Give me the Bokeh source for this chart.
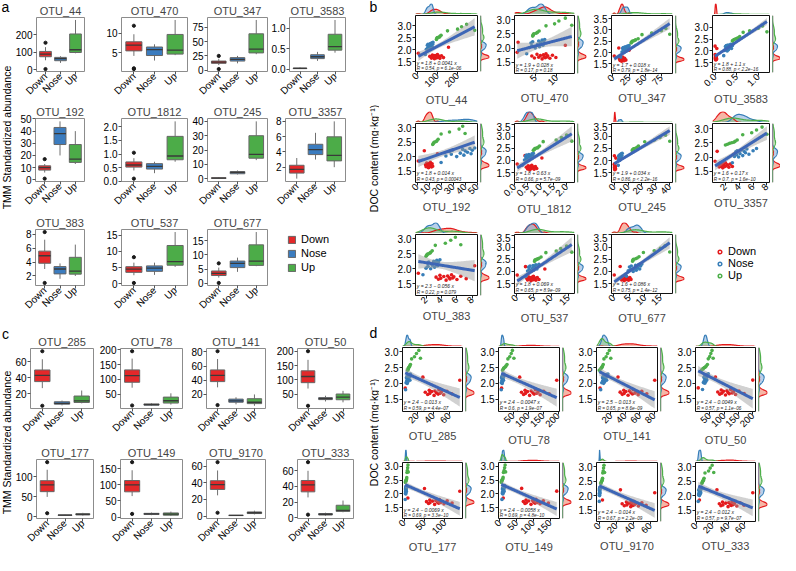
import numpy as np
from math import pi
from bokeh.plotting import figure
from bokeh.layouts import row, column
from bokeh.models import (Range1d, FactorRange, FixedTicker, NumeralTickFormatter,
                          Label, Legend, LegendItem, ColumnDataSource)
from bokeh.embed import file_html
from bokeh.resources import INLINE

FONT = "Liberation Sans"
GROUPS = ["Down", "Nose", "Up"]
LINE_COL = {"Down": "#E41A1C", "Nose": "#377EB8", "Up": "#4DAF4A"}
BOX_COL = {"Down": "#E3282A", "Nose": "#3B7CBF", "Up": "#4CAC48"}
DENS_FILL = {"Down": "#EE7A5C", "Nose": "#7FA9D8", "Up": "#92C987"}

# ---------------- data: DOC content per sample (same samples in every OTU) ----------------
doc_down = [1.85, 2.20, 1.72, 1.65, 1.78, 1.68, 1.74, 1.62, 1.76, 1.70, 1.66, 1.80, 1.69, 1.73, 1.64, 1.75, 1.67, 2.10]
doc_nose = [1.80, 2.02, 2.18, 2.08, 2.22, 2.00, 2.12, 2.25, 2.05, 2.20, 2.15, 2.28, 2.10, 2.22, 2.30]
doc_up = [2.42, 2.45, 2.48, 2.50, 2.52, 2.55, 2.60, 2.78, 2.85, 2.95, 3.05, 2.80]

# ---------------- data: TMM standardized abundance per sample ----------------
OTU_44_down = [5, 55, 62, 70, 75, 76, 80, 85, 88, 92, 96, 100, 104, 106, 112, 120, 130, 155]
OTU_44_nose = [40, 45, 50, 52, 53, 58, 62, 65, 66, 68, 70, 73, 75, 76, 78]
OTU_44_up = [95, 96, 98, 100, 110, 112, 118, 150, 200, 220, 245, 285]
OTU_470_down = [0.8, 1.0, 4.2, 4.8, 5.4, 5.8, 6.2, 6.6, 6.9, 7.1, 7.3, 7.5, 7.7, 7.9, 8.4, 9.0, 9.8, 12.0]
OTU_470_nose = [3.0, 3.6, 4.0, 4.2, 4.4, 5.0, 5.5, 5.8, 6.0, 6.2, 6.4, 6.6, 6.8, 7.0, 7.2]
OTU_470_up = [4.4, 4.5, 4.55, 4.7, 5.2, 5.5, 5.9, 7.5, 9.5, 10.5, 12.0, 13.5]
OTU_347_down = [2, 9, 10, 11, 12, 12, 13, 13.5, 14, 14, 14.5, 15, 16, 16, 17, 18, 20, 25]
OTU_347_nose = [12, 14, 15, 16, 16, 17, 18, 19, 20, 21, 21.5, 22.5, 23, 24, 25]
OTU_347_up = [28, 29, 29.5, 30.5, 33, 35, 39, 45, 60, 75, 82, 88]
OTU_3583_down = [0.0, 0.0, 0.005, 0.005, 0.01, 0.01, 0.01, 0.015, 0.015, 0.02, 0.02, 0.02, 0.025, 0.025, 0.03, 0.03, 0.035, 0.04]
OTU_3583_nose = [0.20, 0.22, 0.24, 0.25, 0.26, 0.28, 0.29, 0.30, 0.31, 0.33, 0.34, 0.36, 0.38, 0.40, 0.42]
OTU_3583_up = [0.40, 0.42, 0.44, 0.47, 0.50, 0.53, 0.57, 0.65, 0.80, 1.00, 1.10, 1.20]
OTU_192_down = [1, 6, 7, 7.5, 8, 8, 9, 9.5, 10, 10, 10.5, 11, 11.5, 11.5, 12, 12.5, 13, 17]
OTU_192_nose = [20, 24, 27, 28.5, 29.5, 33, 36, 38, 39, 40, 42, 44, 45, 46, 48]
OTU_192_up = [13, 13.5, 13.8, 14.5, 16, 16.5, 17.5, 20, 27, 35, 38, 40]
OTU_1812_down = [0.1, 0.4, 0.45, 0.5, 0.52, 0.53, 0.56, 0.58, 0.6, 0.6, 0.63, 0.66, 0.69, 0.72, 0.75, 0.8, 0.85, 1.05]
OTU_1812_nose = [0.30, 0.38, 0.42, 0.44, 0.46, 0.50, 0.52, 0.55, 0.57, 0.60, 0.63, 0.67, 0.69, 0.70, 0.72]
OTU_1812_up = [0.72, 0.75, 0.77, 0.80, 0.88, 0.90, 0.96, 1.10, 1.60, 1.80, 2.00, 2.20]
OTU_245_down = [0.1, 0.2, 0.2, 0.3, 0.3, 0.4, 0.4, 0.5, 0.5, 0.5, 0.6, 0.6, 0.7, 0.7, 0.8, 0.9, 1.0, 1.2]
OTU_245_nose = [3.0, 3.2, 3.3, 3.4, 3.6, 3.9, 4.2, 4.5, 4.6, 4.8, 4.9, 5.1, 5.3, 5.5, 5.8]
OTU_245_up = [13, 13.5, 13.8, 14.5, 16, 16.5, 17.5, 22, 29, 33, 37, 40]
OTU_3357_down = [0.5, 0.8, 1.0, 1.1, 1.2, 1.3, 1.5, 1.6, 1.7, 1.75, 1.85, 2.0, 2.1, 2.3, 2.5, 2.7, 3.0, 3.2]
OTU_3357_nose = [3.0, 3.3, 3.5, 3.6, 3.7, 3.9, 4.1, 4.3, 4.5, 4.7, 4.9, 5.1, 5.4, 6.0, 6.5]
OTU_3357_up = [2.0, 2.3, 2.6, 2.9, 3.2, 3.4, 3.7, 4.5, 5.8, 6.5, 7.3, 8.0]
OTU_383_down = [1.0, 3.0, 3.3, 3.6, 3.8, 3.9, 4.3, 4.6, 4.8, 5.0, 5.1, 5.3, 5.45, 5.6, 6.0, 6.5, 7.2, 8.3]
OTU_383_nose = [1.6, 2.0, 2.2, 2.25, 2.35, 2.6, 2.8, 3.0, 3.1, 3.2, 3.3, 3.4, 3.5, 3.6, 3.8]
OTU_383_up = [2.0, 2.1, 2.15, 2.3, 2.5, 2.6, 2.8, 3.2, 4.5, 5.2, 5.8, 6.5]
OTU_537_down = [0.2, 2.6, 2.9, 3.2, 3.45, 3.6, 3.9, 4.2, 4.4, 4.6, 4.8, 4.9, 5.1, 5.3, 5.6, 6.0, 6.5, 8.2]
OTU_537_nose = [2.7, 3.2, 3.5, 3.7, 3.9, 4.3, 4.6, 4.8, 5.0, 5.2, 5.4, 5.6, 5.9, 6.2, 6.5]
OTU_537_up = [5.2, 5.3, 5.4, 5.8, 6.2, 6.5, 7.1, 8.5, 11.5, 12.8, 14.5, 16.0]
OTU_677_down = [0.1, 2.0, 2.3, 2.5, 2.7, 2.75, 3.0, 3.3, 3.4, 3.6, 3.8, 4.0, 4.2, 4.35, 4.7, 5.1, 5.5, 7.0]
OTU_677_nose = [4.0, 4.6, 5.0, 5.4, 5.6, 6.2, 6.6, 7.0, 7.2, 7.4, 7.6, 8.0, 8.3, 8.6, 9.0]
OTU_677_up = [6.0, 6.1, 6.2, 6.3, 7.0, 7.5, 8.1, 9.5, 13.0, 15.0, 16.5, 18.0]

OTU_285_down = [5, 27, 30, 33, 35, 35.5, 38, 41, 42, 44, 46, 47, 48.5, 50, 53, 57, 63, 73]
OTU_285_nose = [5.5, 6, 6.5, 6.8, 7.2, 7.5, 7.8, 8, 8.3, 8.8, 9.5, 10.5, 10.8, 11, 11.5]
OTU_285_up = [8, 8.5, 8.8, 9.2, 10, 10.5, 11.5, 13, 16.5, 19, 22, 24]
OTU_78_down = [12, 72, 78, 85, 90, 91, 98, 105, 110, 116, 120, 124, 129, 133, 140, 152, 170, 195]
OTU_78_nose = [11, 11.5, 12, 12.8, 13.3, 14, 14.5, 15, 15.5, 16, 17, 17.8, 18.3, 19, 20]
OTU_78_up = [15, 17, 19, 20.5, 24, 26, 30, 33, 39, 44, 48, 53]
OTU_141_down = [5, 30, 33, 36, 38, 38.5, 41, 44, 46, 48, 50, 51, 53.5, 55, 58, 63, 70, 81]
OTU_141_nose = [6, 7.5, 8.5, 8.8, 9.2, 10, 10.5, 11, 11.5, 12, 13, 13.8, 14.2, 15, 16]
OTU_141_up = [4, 5.5, 6.5, 7.2, 8, 8.5, 9.5, 10.5, 13.5, 15.5, 18, 20]
OTU_50_down = [10, 70, 78, 85, 90, 92, 98, 105, 110, 114, 118, 123, 128, 133, 140, 152, 170, 200]
OTU_50_nose = [25, 28, 30, 31, 32, 33, 34, 35, 36, 37, 38, 39, 40, 42, 45]
OTU_50_up = [22, 25, 28, 32, 35, 38, 42, 45, 50, 54, 58, 62]
OTU_177_down = [9, 50, 55, 60, 63, 63.5, 70, 75, 78, 82, 85, 87, 89.5, 91, 98, 106, 118, 137]
OTU_177_nose = [2.5, 3, 3.2, 3.4, 3.6, 3.8, 4, 4.1, 4.3, 4.5, 4.7, 4.9, 5.1, 5.3, 5.6]
OTU_177_up = [3, 3.5, 4.2, 4.8, 5.5, 5.8, 6.3, 6.8, 7.8, 8.5, 9.2, 10]
OTU_149_down = [10, 65, 70, 75, 78, 79, 86, 93, 98, 102, 105, 108, 111, 114, 120, 130, 145, 170]
OTU_149_nose = [6, 7, 7.5, 7.8, 8.2, 8.8, 9.5, 10, 10.5, 11, 11.5, 11.8, 12.2, 13, 14]
OTU_149_up = [4, 5, 5.5, 6.2, 7.5, 8.5, 9.5, 10.5, 12.5, 14, 15.5, 17]
OTU_9170_down = [4, 25, 27, 29.5, 32, 32.5, 35, 37, 37.5, 38.5, 39.5, 40.5, 41.5, 43, 46, 50, 55, 65]
OTU_9170_nose = [0.3, 0.4, 0.5, 0.55, 0.6, 0.65, 0.7, 0.75, 0.8, 0.85, 0.9, 1.0, 1.1, 1.2, 1.3]
OTU_9170_up = [2.0, 2.4, 2.8, 3.1, 3.6, 3.9, 4.1, 4.4, 4.9, 5.3, 5.8, 6.5]
OTU_333_down = [4, 26, 29, 31, 33, 33.5, 37, 40, 41, 43, 44, 45, 46.5, 48, 51, 55, 60, 71]
OTU_333_nose = [2.5, 3, 3.2, 3.4, 3.6, 4, 4.3, 4.5, 4.7, 5, 5.3, 5.5, 5.7, 6, 6.5]
OTU_333_up = [7, 7.5, 7.8, 8.2, 9, 9.2, 9.8, 11, 15.5, 17.5, 20, 22]

# ---------------- panel contents ----------------
ab_names = ["OTU_44", "OTU_470", "OTU_347", "OTU_3583", "OTU_192", "OTU_1812",
            "OTU_245", "OTU_3357", "OTU_383", "OTU_537", "OTU_677"]
a_box_ticks = [[0, 100, 200], [5, 10], [0, 25, 50, 75], [0, 0.5, 1.0],
               [0, 10, 20, 30, 40, 50], [0, 0.5, 1.0, 1.5, 2.0], [0, 10, 20, 30, 40],
               [2, 4, 6, 8], [2, 4, 6, 8], [0, 5, 10, 15], [0, 5, 10, 15]]
b_x_ticks = [[0, 100, 200], [5, 10], [0, 25, 50, 75], [0, 0.5, 1.0],
             [0, 10, 20, 30, 40, 50], [0, 0.5, 1.0, 1.5, 2.0], [0, 10, 20, 30, 40],
             [0, 2, 4, 6, 8], [2, 4, 6, 8], [0, 5, 10, 15], [0, 5, 10, 15]]
b_eq = ["y = 1.8 + 0.0041 x", "y = 1.9 + 0.028 x", "y = 1.7 + 0.018 x", "y = 1.8 + 1.1 x",
        "y = 1.8 + 0.014 x", "y = 1.8 + 0.63 x", "y = 1.9 + 0.034 x", "y = 1.6 + 0.17 x",
        "y = 2.3 \u2212 0.056 x", "y = 1.8 + 0.069 x", "y = 1.6 + 0.086 x"]
b_cor = ["R = 0.54, p = 6.1e\u221206", "R = 0.17, p = 0.18", "R = 0.79, p = 1.8e\u221214",
         "R = 0.88, p < 2.2e\u221216", "R = 0.43, p = 0.00043", "R = 0.66, p = 5.7e\u221209",
         "R = 0.86, p < 2.2e\u221216", "R = 0.7, p = 1.6e\u221210", "R = 0.22, p = 0.079",
         "R = 0.65, p = 8.9e\u221209", "R = 0.75, p = 1.4e\u221212"]

cd_names = ["OTU_285", "OTU_78", "OTU_141", "OTU_50", "OTU_177", "OTU_149", "OTU_9170", "OTU_333"]
c_box_ticks = [[20, 40, 60], [50, 100, 150, 200], [20, 40, 60, 80], [50, 100, 150, 200],
               [0, 50, 100], [0, 50, 100, 150], [0, 20, 40, 60], [0, 20, 40, 60]]
d_x_ticks = [[20, 40, 60], [50, 100, 150, 200], [20, 40, 60, 80], [50, 100, 150, 200],
             [0, 50, 100], [0, 50, 100, 150], [0, 20, 40, 60], [0, 20, 40, 60]]
d_eq = ["y = 2.4 \u2212 0.013 x", "y = 2.4 \u2212 0.0047 x", "y = 2.5 \u2212 0.013 x", "y = 2.4 \u2212 0.0049 x",
        "y = 2.4 \u2212 0.0069 x", "y = 2.4 \u2212 0.0058 x", "y = 2.4 \u2212 0.014 x", "y = 2.4 \u2212 0.012 x"]
d_cor = ["R = 0.59, p = 4.4e\u221207", "R = 0.6, p = 1.9e\u221207", "R = 0.65, p = 8.6e\u221209",
         "R = 0.57, p = 1.1e\u221206", "R = 0.69, p = 3.3e\u221210", "R = 0.69, p = 4.8e\u221210",
         "R = 0.67, p = 2.2e\u221209", "R = 0.57, p = 9.7e\u221207"]
doc_ticks = [1.5, 2.0, 2.5, 3.0, 3.5]

OTU = {}
for _n in ab_names + cd_names:
    OTU[_n] = (globals()[_n + "_down"], globals()[_n + "_nose"], globals()[_n + "_up"])
DOC = (doc_down, doc_nose, doc_up)


# ---------------- helpers ----------------
def box_stats(v):
    v = np.asarray(v, float)
    q1, med, q3 = np.percentile(v, [25, 50, 75])
    iqr = q3 - q1
    lo_f, hi_f = q1 - 1.5 * iqr, q3 + 1.5 * iqr
    inside = v[(v >= lo_f) & (v <= hi_f)]
    out = v[(v < lo_f) | (v > hi_f)]
    return q1, med, q3, inside.min(), inside.max(), out


def kde(vals, grid):
    v = np.asarray(vals, float)
    n = len(v)
    sd = v.std(ddof=1)
    q75, q25 = np.percentile(v, [75, 25])
    lo = min(sd, (q75 - q25) / 1.34) if q75 > q25 else sd
    if lo <= 0:
        lo = 1.0
    bw = 0.9 * lo * n ** -0.2
    z = (grid[:, None] - v[None, :]) / bw
    return np.exp(-0.5 * z * z).sum(axis=1) / (n * bw * np.sqrt(2 * np.pi))


def fmt_for(ticks):
    if any(abs(t - round(t)) > 1e-9 for t in ticks):
        return NumeralTickFormatter(format="0.0")
    return None


def style_axes(p, tick_col):
    p.xgrid.visible = False
    p.ygrid.visible = False
    for ax in p.axis:
        ax.axis_line_color = None
        ax.major_tick_in = 0
        ax.major_tick_out = 3
        ax.minor_tick_line_color = None
        ax.major_tick_line_color = tick_col
        ax.major_label_text_font = FONT
        ax.major_label_text_color = "black"
        ax.major_label_standoff = 1


def box_fig(name, yticks, L, T, fw, fh, R, B):
    vals = [np.asarray(v, float) for v in OTU[name]]
    allv = np.concatenate(vals)
    lo, hi = allv.min(), allv.max()
    span = hi - lo
    p = figure(width=L + fw + R, height=T + fh + B,
               x_range=FactorRange(factors=GROUPS, range_padding=0.1, range_padding_units="absolute"),
               y_range=Range1d(lo - 0.05 * span, hi + 0.05 * span),
               title=name, toolbar_location=None, output_backend="svg",
               min_border_left=L, min_border_right=R, min_border_top=T, min_border_bottom=B)
    st = [box_stats(v) for v in vals]
    src = ColumnDataSource(dict(g=GROUPS, q1=[s[0] for s in st], med=[s[1] for s in st],
                                q3=[s[2] for s in st], wlo=[s[3] for s in st], whi=[s[4] for s in st],
                                col=[BOX_COL[g] for g in GROUPS]))
    p.segment(x0="g", y0="q3", x1="g", y1="whi", source=src, line_color="#707070", line_width=1)
    p.segment(x0="g", y0="q1", x1="g", y1="wlo", source=src, line_color="#707070", line_width=1)
    p.vbar(x="g", bottom="q1", top="q3", width=0.78, source=src, fill_color="col",
           line_color="#666666", line_width=1)
    p.rect(x="g", y="med", width=0.78, height=1.3, height_units="screen", source=src,
           fill_color="#3a3a3a", line_color=None)
    ox, oy = [], []
    for g, s in zip(GROUPS, st):
        for o in s[5]:
            ox.append(g)
            oy.append(float(o))
    if ox:
        p.scatter(ox, oy, size=3.2, color="#1a1a1a")
    style_axes(p, "#555555")
    p.yaxis.ticker = FixedTicker(ticks=yticks)
    f = fmt_for(yticks)
    if f is not None:
        p.yaxis.formatter = f
    p.yaxis.major_label_text_font_size = "10px"
    p.xaxis.major_label_text_font_size = "10px"
    p.xaxis.major_label_standoff = 0
    p.xaxis.major_label_orientation = pi / 4
    p.outline_line_color = "#8c8c8c"
    p.title.align = "center"
    p.title.text_font = FONT
    p.title.text_font_size = "11px"
    p.title.text_font_style = "normal"
    p.title.standoff = 1
    return p


SC_R = 3  # right border of a scatter figure (room for the last rotated tick label)


def scatter_cell(name, xticks, eq, cor, L, fw, rm, rest, top_T, top_h, T, fh, B):
    xs_g = [np.asarray(v, float) for v in OTU[name]]
    ys_g = [np.asarray(v, float) for v in DOC]
    x = np.concatenate(xs_g)
    y = np.concatenate(ys_g)
    n = len(x)
    slope, icpt = np.polyfit(x, y, 1)
    xg = np.linspace(x.min(), x.max(), 80)
    yhat = icpt + slope * xg
    resid = y - (icpt + slope * x)
    s = np.sqrt((resid ** 2).sum() / (n - 2))
    sxx = ((x - x.mean()) ** 2).sum()
    se = s * np.sqrt(1.0 / n + (xg - x.mean()) ** 2 / sxx)
    tval = 2.017
    lo_b, hi_b = yhat - tval * se, yhat + tval * se
    xspan = x.max() - x.min()
    x0, x1 = x.min() - 0.05 * xspan, x.max() + 0.05 * xspan
    ylo = min(y.min(), lo_b.min(), 1.2)
    yhi = max(y.max(), hi_b.max())
    yspan = yhi - ylo
    y0, y1 = ylo - 0.05 * yspan, yhi + 0.05 * yspan
    xr = Range1d(x0, x1)
    yr = Range1d(y0, y1)

    sc = figure(width=L + fw + SC_R, height=T + fh + B, x_range=xr, y_range=yr,
                toolbar_location=None, output_backend="svg",
                min_border_left=L, min_border_right=SC_R, min_border_top=T, min_border_bottom=B)
    for xv, yv, g in zip(xs_g, ys_g, GROUPS):
        sc.scatter(xv, yv, size=3.6, color=LINE_COL[g], line_color=None)
    sc.varea(x=xg, y1=lo_b, y2=hi_b, fill_color="#9a9a9a", fill_alpha=0.45)
    sc.line(xg, yhat, line_color="#3D66B6", line_width=3)
    sc.add_layout(Label(x=x0 + 0.02 * (x1 - x0), y=y0 + 0.155 * (y1 - y0), text=eq,
                        text_font=FONT, text_font_size="5px", text_font_style="italic",
                        text_baseline="middle", text_color="#222222"))
    sc.add_layout(Label(x=x0 + 0.02 * (x1 - x0), y=y0 + 0.05 * (y1 - y0), text=cor,
                        text_font=FONT, text_font_size="4.6px", text_font_style="italic",
                        text_baseline="middle", text_color="#222222"))
    style_axes(sc, "#222222")
    sc.xaxis.ticker = FixedTicker(ticks=xticks)
    f = fmt_for(xticks)
    if f is not None:
        sc.xaxis.formatter = f
    sc.yaxis.ticker = FixedTicker(ticks=doc_ticks)
    sc.yaxis.formatter = NumeralTickFormatter(format="0.0")
    sc.xaxis.major_label_orientation = pi / 4
    sc.xaxis.major_label_text_font_size = "9.5px"
    sc.xaxis.major_label_standoff = 0
    sc.yaxis.major_label_text_font_size = "10px"
    sc.xaxis.axis_label = name
    sc.xaxis.axis_label_text_font = FONT
    sc.xaxis.axis_label_text_font_size = "11px"
    sc.xaxis.axis_label_text_font_style = "normal"
    sc.xaxis.axis_label_standoff = 1
    sc.outline_line_color = "#111111"
    sc.outline_line_width = 1

    gx = np.linspace(x0, x1, 220)
    dx = [kde(v, gx) for v in xs_g]
    dmax = max(d.max() for d in dx)
    top = figure(width=L + fw + SC_R + rm + rest, height=top_T + top_h, x_range=xr,
                 y_range=Range1d(0, dmax * 1.03), x_axis_type=None, y_axis_type=None,
                 toolbar_location=None, output_backend="svg",
                 min_border_left=L, min_border_right=SC_R + rm + rest, min_border_top=top_T,
                 min_border_bottom=0)
    top.outline_line_color = None
    for d, g in zip(dx, GROUPS):
        top.varea(x=gx, y1=0, y2=d, fill_color=DENS_FILL[g], fill_alpha=0.55)
    for d, g in zip(dx, GROUPS):
        top.line(gx, d, line_color=LINE_COL[g], line_width=1.2)

    gy = np.linspace(y0, y1, 220)
    dy = [kde(v, gy) for v in ys_g]
    rmax = max(d.max() for d in dy)
    rt = figure(width=rm + rest, height=T + fh + B, x_range=Range1d(0, rmax * 1.03), y_range=yr,
                x_axis_type=None, y_axis_type=None, toolbar_location=None, output_backend="svg",
                min_border_left=0, min_border_right=rest, min_border_top=T, min_border_bottom=B)
    rt.outline_line_color = None
    for d, g in zip(dy, GROUPS):
        rt.harea(y=gy, x1=0, x2=d, fill_color=DENS_FILL[g], fill_alpha=0.55)
    for d, g in zip(dy, GROUPS):
        rt.line(d, gy, line_color=LINE_COL[g], line_width=1.2)
    return column(top, row(sc, rt))


def blank(width, height, left, top, right=0, bottom=0):
    p = figure(width=width, height=height, x_range=Range1d(0, 1), y_range=Range1d(0, 1),
               x_axis_type=None, y_axis_type=None, toolbar_location=None, output_backend="svg",
               min_border_left=left, min_border_top=top, min_border_right=right,
               min_border_bottom=bottom)
    p.outline_line_color = None
    return p


def strip(width, height, items):
    p = figure(width=width, height=height, x_range=Range1d(0, width), y_range=Range1d(height, 0),
               x_axis_type=None, y_axis_type=None, toolbar_location=None, output_backend="svg",
               min_border=0)
    p.outline_line_color = None
    for (tx, ty, txt, size, ang) in items:
        p.add_layout(Label(x=tx, y=ty, text=txt, angle=ang, text_font=FONT, text_font_size=size,
                           text_align="center", text_baseline="middle", text_color="black"))
    return p


# ---------------- geometry ----------------
A_COLS = [(23, 49, 4), (33, 66, 2), (18, 60, 1), (17, 60, 22)]
A_ROWS = [(17, 58, 28), (12, 66, 33), (13, 58, 35)]
C_COLS = [(18, 63, 3), (24, 62, 6), (17, 60, 3), (29, 56, 14)]
C_ROWS = [(28, 61, 31), (19, 59, 37)]
B_COLS = [(36, 62, 9, 1), (24, 60, 9, 1), (24, 61, 9, 3), (25, 57, 8, 0)]
B_ROWS = [(3, 11, 1, 58, 35), (3, 11, 1, 59, 37), (3, 11, 1, 61, 32)]
D_COLS = [(23, 60, 9, 1), (23, 61, 9, 2), (23, 61, 9, 2), (24, 60, 9, 13)]
D_ROWS = [(7, 12, 1, 64, 37), (1, 12, 1, 60, 33)]

NAN = float("nan")

# panel a
a_rows = []
k = 0
for ri, (T, fh, B) in enumerate(A_ROWS):
    figs = []
    for ci, (L, fw, R) in enumerate(A_COLS):
        if k < len(ab_names) and not (ri == 2 and ci == 3):
            figs.append(box_fig(ab_names[k], a_box_ticks[k], L, T, fw, fh, R, B))
            k += 1
        else:
            lg = blank(L + fw + R, T + fh + B, L, T, R, B)
            items = []
            for g in GROUPS:
                r = lg.vbar(x=[NAN], top=[NAN], width=0.5, fill_color=BOX_COL[g], line_color="#666666")
                items.append(LegendItem(label=g, renderers=[r]))
            leg = Legend(items=items, location=(2, 12), margin=0, padding=0, spacing=2,
                         glyph_width=9, glyph_height=9, label_height=9, label_standoff=5,
                         label_text_font=FONT, label_text_font_size="11px", label_text_color="black",
                         border_line_color=None, background_fill_alpha=0)
            lg.add_layout(leg)
            figs.append(lg)
    a_rows.append(row(*figs))

c_rows = []
k = 0
for (T, fh, B) in C_ROWS:
    figs = []
    for (L, fw, R) in C_COLS:
        figs.append(box_fig(cd_names[k], c_box_ticks[k], L, T, fw, fh, R, B))
        k += 1
    c_rows.append(row(*figs))

b_rows = []
k = 0
for ri, (tT, th, T, fh, B) in enumerate(B_ROWS):
    cells = []
    for ci, (L, fw, rm, rest) in enumerate(B_COLS):
        if ri == 2 and ci == 3:
            w = L + fw + SC_R + rm + rest
            h = tT + th + T + fh + B
            lg = blank(w, h, 28, 26)
            items = []
            for g in GROUPS:
                r = lg.scatter(x=[NAN], y=[NAN], marker="circle", size=7, fill_color="white",
                               line_color=LINE_COL[g], line_width=1.5)
                items.append(LegendItem(label=g, renderers=[r]))
            leg = Legend(items=items, location="top_left", margin=0, padding=0, spacing=0,
                         glyph_width=9, glyph_height=9, label_height=9, label_standoff=4,
                         label_text_font=FONT, label_text_font_size="11px", label_text_color="black",
                         border_line_color=None, background_fill_alpha=0)
            lg.add_layout(leg)
            cells.append(lg)
        else:
            cells.append(scatter_cell(ab_names[k], b_x_ticks[k], b_eq[k], b_cor[k],
                                      L, fw, rm, rest, tT, th, T, fh, B))
            k += 1
    b_rows.append(row(*cells))

d_rows = []
k = 0
for (tT, th, T, fh, B) in D_ROWS:
    cells = []
    for (L, fw, rm, rest) in D_COLS:
        cells.append(scatter_cell(cd_names[k], d_x_ticks[k], d_eq[k], d_cor[k],
                                  L, fw, rm, rest, tT, th, T, fh, B))
        k += 1
    d_rows.append(row(*cells))

H = 555
left_strip = strip(12, H, [(5, 6, "a", "14px", 0),
                           (6, 137, "TMM Standardized abundance", "10.5px", pi / 2),
                           (5, 333, "c", "14px", 0),
                           (6, 442, "TMM Standardized abundance", "10.5px", pi / 2)])
right_strip = strip(12, H, [(6, 6, "b", "14px", 0),
                            (6, 158, "DOC content (mg\u00b7kg\u207b\u00b9)", "10.5px", pi / 2),
                            (6, 332, "d", "14px", 0),
                            (6, 432, "DOC content (mg\u00b7kg\u207b\u00b9)", "10.5px", pi / 2)])

layout = row(left_strip, column(*a_rows, *c_rows), right_strip, column(*b_rows, *d_rows))

open("out.html", "w").write(file_html(layout, INLINE))
